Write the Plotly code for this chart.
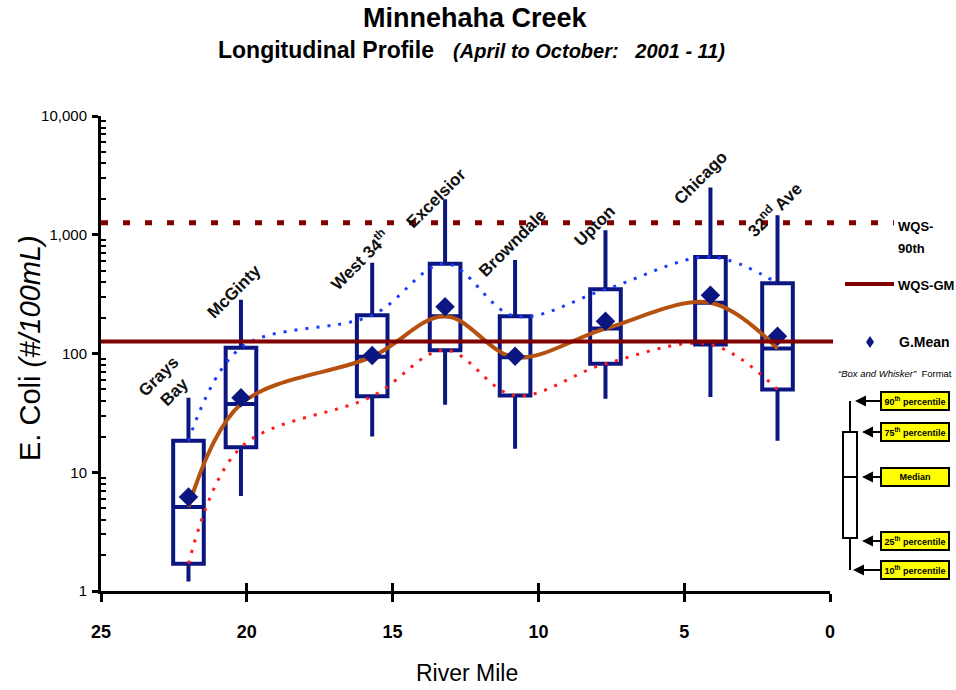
import math
import plotly.graph_objects as go

# ---- station data: river mile and E. coli percentiles (#/100mL) ----
stations = ["Grays<br>Bay", "McGinty", "West 34<sup>th</sup>", "Excelsior",
            "Browndale", "Upton", "Chicago", "32<sup>nd</sup> Ave"]
miles = [22.0, 20.2, 15.7, 13.2, 10.8, 7.7, 4.1, 1.8]
p10 = [1.2, 6.3, 20, 37, 15.8, 41.5, 43, 18.4]
p25 = [1.7, 16.2, 43.6, 106.6, 44.2, 82, 119, 49.7]
p50 = [5.1, 37.6, 94, 206, 93, 162, 268, 110]
p75 = [18.4, 112, 210, 571, 206, 347, 650, 390]
p90 = [42.5, 284, 582, 1995, 613, 1090, 2500, 1460]
gmean = [6.2, 42.3, 96, 248, 95, 187, 309, 140]

# water quality standards
WQS_90TH = 1260
WQS_GM = 126

# axis ticks
x_ticks = [25, 20, 15, 10, 5, 0]
y_tickvals = [1, 10, 100, 1000, 10000]
y_ticktext = ["1", "10", "100", "1,000", "10,000"]
y_minor = [m * 10 ** d for d in range(4) for m in range(2, 10)]

NAVY = "#0c1680"
DARKRED = "#800000"
BROWN = "#b5520f"
NARROW = "Liberation Sans Narrow, Arial Narrow, Liberation Sans, Arial"
SANS = "Liberation Sans, Arial"

W, H = 956, 690
L, R, T, B = 101, 830, 116, 591


def fx(px):
    return (px - L) / (R - L)


def fy(py):
    return (B - py) / (B - T)


def ylog(v):
    # paper y of a value on the 1..10,000 log axis
    return math.log10(v) / 4.0


fig = go.Figure()

fig.add_trace(go.Box(
    x=miles, q1=p25, median=p50, q3=p75, lowerfence=p10, upperfence=p90,
    width=1.05, whiskerwidth=0, boxpoints=False,
    line=dict(color=NAVY, width=4), fillcolor="white",
    showlegend=False, hoverinfo="skip"))

fig.add_trace(go.Scatter(
    x=miles, y=p75, mode="lines", line=dict(color="#1e3cff", width=3, dash="3px,8px", shape="spline"),
    showlegend=False, hoverinfo="skip"))
fig.add_trace(go.Scatter(
    x=miles, y=p25, mode="lines", line=dict(color="#ff1a1a", width=3, dash="3px,8px", shape="spline"),
    showlegend=False, hoverinfo="skip"))
fig.add_trace(go.Scatter(
    x=miles, y=p50, mode="lines", line=dict(color=BROWN, width=4, shape="spline"),
    showlegend=False, hoverinfo="skip"))
fig.add_trace(go.Scatter(
    x=miles, y=gmean, mode="markers", marker=dict(symbol="diamond", size=15, color=NAVY),
    showlegend=False, hoverinfo="skip"))

# overlay axis used only to draw the inner half of the x ticks
fig.add_trace(go.Scatter(x=[25], y=[1], xaxis="x2", mode="markers",
                         marker=dict(opacity=0), showlegend=False, hoverinfo="skip"))

shapes = []
annotations = []

# standards lines
shapes.append(dict(type="line", xref="paper", yref="paper", x0=0, x1=fx(894),
                   y0=ylog(WQS_90TH), y1=ylog(WQS_90TH),
                   line=dict(color=DARKRED, width=5, dash="7px,15px")))
shapes.append(dict(type="line", xref="paper", yref="paper", x0=0, x1=fx(833),
                   y0=ylog(WQS_GM), y1=ylog(WQS_GM),
                   line=dict(color=DARKRED, width=4)))

# legend entries
shapes.append(dict(type="line", xref="paper", yref="paper", x0=fx(845), x1=fx(894),
                   y0=fy(284), y1=fy(284), line=dict(color=DARKRED, width=4)))
dx, dy, cx, cy = 4, 6, 870, 342
shapes.append(dict(type="path", xref="paper", yref="paper",
                   path=f"M {fx(cx)},{fy(cy - dy)} L {fx(cx + dx)},{fy(cy)} L {fx(cx)},{fy(cy + dy)} L {fx(cx - dx)},{fy(cy)} Z",
                   fillcolor=NAVY, line=dict(color=NAVY, width=0)))

for txt, py in [("WQS-", 226), ("90th", 248), ("WQS-GM", 285)]:
    annotations.append(dict(text=f"<b>{txt}</b>", xref="paper", yref="paper", x=fx(896), y=fy(py),
                            xanchor="left", yanchor="middle", showarrow=False,
                            font=dict(family=NARROW, size=13, color="black")))
annotations.append(dict(text="<b>G.Mean</b>", xref="paper", yref="paper", x=fx(897), y=fy(342),
                        xanchor="left", yanchor="middle", showarrow=False,
                        font=dict(family=NARROW, size=14, color="black")))
annotations.append(dict(text="<i>\u201cBox and Whisker\u201d</i>  Format", xref="paper", yref="paper",
                        x=fx(895), y=fy(373), xanchor="center", yanchor="middle", showarrow=False,
                        font=dict(family=NARROW, size=9.5, color="black")))

# box-and-whisker key
shapes.append(dict(type="line", xref="paper", yref="paper", x0=fx(850), x1=fx(850),
                   y0=fy(401), y1=fy(570), line=dict(color="black", width=2)))
shapes.append(dict(type="rect", xref="paper", yref="paper", x0=fx(843), x1=fx(857),
                   y0=fy(538), y1=fy(432), fillcolor="white", line=dict(color="black", width=2)))
shapes.append(dict(type="line", xref="paper", yref="paper", x0=fx(843), x1=fx(857),
                   y0=fy(477), y1=fy(477), line=dict(color="black", width=2)))

key = [("90<sup>th</sup> percentile", 401, 855),
       ("75<sup>th</sup> percentile", 432, 862),
       ("Median", 477, 862),
       ("25<sup>th</sup> percentile", 541, 862),
       ("10<sup>th</sup> percentile", 570, 853)]
for txt, py, head in key:
    annotations.append(dict(text=f"<b>{txt}</b>", xref="paper", yref="paper", x=fx(head), y=fy(py),
                            ax=915 - head, ay=0, axref="pixel", ayref="pixel",
                            showarrow=True, arrowhead=2, arrowsize=1.1, arrowwidth=2, arrowcolor="black",
                            bgcolor="#ffff00", bordercolor="black", borderwidth=2, borderpad=2,
                            width=62, height=12, align="center",
                            font=dict(family=NARROW, size=9, color="black")))

# station labels
label_pos = [(166, 384), (234, 291), (359, 260), (436, 198),
             (512, 243), (594, 226), (700, 178), (774, 209)]
for name, (px, py) in zip(stations, label_pos):
    annotations.append(dict(text=f"<b>{name}</b>", xref="paper", yref="paper", x=fx(px), y=fy(py),
                            xanchor="center", yanchor="middle", textangle=-45, showarrow=False,
                            font=dict(family=SANS, size=17, color="#111111")))

# titles
annotations.append(dict(text="<b>Minnehaha Creek</b>", xref="paper", yref="paper", x=fx(475), y=fy(18),
                        xanchor="center", yanchor="middle", showarrow=False,
                        font=dict(family=SANS, size=27, color="black")))
annotations.append(dict(text="<b>Longitudinal Profile</b>&nbsp;&nbsp;&nbsp;<span style='font-size:20px'><b><i>(April to October:&nbsp;&nbsp;&nbsp;2001 - 11)</i></b></span>",
                        xref="paper", yref="paper", x=fx(471), y=fy(50),
                        xanchor="center", yanchor="middle", showarrow=False,
                        font=dict(family=SANS, size=23, color="black")))
annotations.append(dict(text="E. Coli <i>(#/100mL)</i>", xref="paper", yref="paper", x=fx(30), y=fy(348),
                        xanchor="center", yanchor="middle", textangle=-90, showarrow=False,
                        font=dict(family=SANS, size=29, color="black")))
annotations.append(dict(text="River Mile", xref="paper", yref="paper", x=fx(467), y=fy(673),
                        xanchor="center", yanchor="middle", showarrow=False,
                        font=dict(family=NARROW, size=23, color="black")))

fig.update_layout(
    width=W, height=H,
    margin=dict(l=L, r=W - R, t=T, b=H - B, pad=0),
    paper_bgcolor="white", plot_bgcolor="white",
    shapes=shapes, annotations=annotations,
    xaxis=dict(range=[25, 0], tickvals=x_ticks, ticks="outside", ticklen=8, tickwidth=3,
               tickcolor="black", showline=True, linecolor="black", linewidth=3,
               showgrid=False, zeroline=False, ticklabelstandoff=14,
               tickfont=dict(family=SANS, size=18, color="black", weight="bold")),
    xaxis2=dict(range=[25, 0], overlaying="x", matches="x", side="bottom", tickvals=x_ticks,
                ticks="inside", ticklen=8, tickwidth=3, tickcolor="black",
                showticklabels=False, showline=False, showgrid=False, zeroline=False),
    yaxis=dict(type="log", range=[0, 4], tickvals=y_tickvals, ticktext=y_ticktext,
               ticks="outside", ticklen=6, tickwidth=3, tickcolor="black",
               showline=True, linecolor="black", linewidth=3, showgrid=False, zeroline=False,
               ticklabelstandoff=2,
               minor=dict(tickvals=y_minor, ticks="inside", ticklen=5, tickwidth=2, tickcolor="black"),
               tickfont=dict(family=SANS, size=15, color="black")),
)

fig.write_html("out.html")
